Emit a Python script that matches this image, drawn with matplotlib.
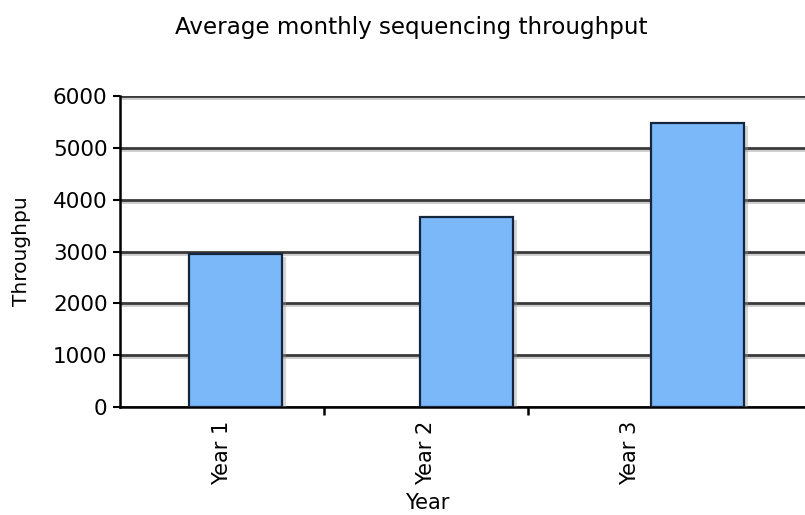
import matplotlib.pyplot as plt
import matplotlib.patheffects as pe
import numpy as np

years = ["Year 1", "Year 2", "Year 3"]
throughput = [2950, 3670, 5480]
yticks = [0, 1000, 2000, 3000, 4000, 5000, 6000]

# the category labels in the original sit on a slightly narrower grid than the bars
label_step = 0.884

fig = plt.figure(figsize=(8.05, 5.15), dpi=100)
ax = fig.add_axes([120 / 805, 1 - 407 / 515, 693 / 805, 311 / 515])

x = np.arange(len(years))
bars = ax.bar(x, throughput, width=0.40, color="#7ab8fa", edgecolor="#15263c",
              linewidth=1.6, zorder=3)
for b in bars:
    b.set_path_effects([pe.SimplePatchShadow(offset=(3, -2), shadow_rgbFace="#999999", alpha=0.4),
                        pe.Normal()])

ax.set_xlim(-0.5, len(years) - 0.5)
ax.set_ylim(0, 6000)
ax.set_yticks(yticks)
ax.tick_params(axis="y", labelsize=15.5, length=5, width=1.5, direction="out", pad=4)

lab_pos = -0.5 + (x + 0.5) * label_step
ax.set_xticks(lab_pos)
ax.set_xticklabels(years, rotation=90, fontsize=15)
ax.tick_params(axis="x", length=0, pad=10)
sep = -0.5 + (x[:-1] + 1) * label_step
ax.set_xticks(sep, minor=True)
ax.tick_params(axis="x", which="minor", length=6, width=1.8, direction="out")

ax.yaxis.grid(True, color="#3a3a3a", linewidth=2, zorder=1)
for gl in ax.get_ygridlines():
    gl.set_path_effects([pe.SimpleLineShadow(offset=(0, -1.5), shadow_color="#999999", alpha=0.5),
                         pe.Normal()])
ax.set_axisbelow(True)

for s in ["top", "right"]:
    ax.spines[s].set_visible(False)
ax.spines["left"].set_linewidth(1.8)
ax.spines["bottom"].set_linewidth(1.8)

ax.set_ylabel("Throughpu", fontsize=14.5)
ax.yaxis.set_label_coords(-(120 - 31) / 693, 0.5)

fig.text(427 / 805, 1 - 503 / 515, "Year", fontsize=15, ha="center", va="center")

fig.text(0.511, 0.947, "Average monthly sequencing throughput", fontsize=16.6,
         ha="center", va="center")

fig.savefig("out.png", dpi=100)
